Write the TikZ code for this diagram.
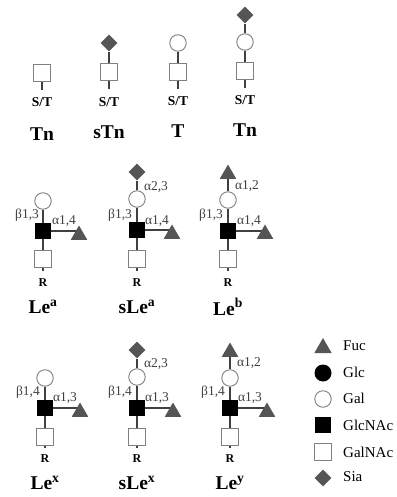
\documentclass[tikz,border=0pt]{standalone}
\usepackage{fontspec}
\setmainfont{Liberation Serif}
\usetikzlibrary{shapes.geometric,backgrounds}
\definecolor{dk}{HTML}{555555}
\definecolor{ln}{HTML}{404040}
\definecolor{ol}{HTML}{808080}
\tikzset{
  gal/.style={circle,draw=ol,fill=white,line width=0.9pt,minimum size=16.5pt,inner sep=0pt},
  glc/.style={circle,fill=black,minimum size=17pt,inner sep=0pt},
  galnac/.style={rectangle,draw=ol,fill=white,line width=0.9pt,minimum size=16.5pt,inner sep=0pt},
  glcnac/.style={rectangle,fill=black,minimum size=16.5pt,inner sep=0pt},
  fuc/.style={regular polygon,regular polygon sides=3,fill=dk,minimum size=19pt,inner sep=0pt},
  sia/.style={diamond,fill=dk,minimum width=17pt,minimum height=17pt,inner sep=0pt},
  link/.style={draw=ln,line width=1.6pt},
  st/.style={font=\fontsize{13.5}{13.5}\selectfont\bfseries,inner sep=0pt},
  rr/.style={font=\fontsize{12}{12}\selectfont\bfseries,inner sep=0pt},
  nm/.style={font=\fontsize{19.5}{19.5}\selectfont\bfseries,inner sep=0pt},
  lk/.style={font=\fontsize{13.5}{13.5}\selectfont,text=ln,inner sep=0pt},
  lg/.style={font=\fontsize{15}{15}\selectfont,anchor=west,inner sep=0pt}
}
\begin{document}
\begin{tikzpicture}[x=1pt,y=-1pt]
\useasboundingbox (0,0) rectangle (396,497);
% ---------- Row 1 ----------
\node[galnac] (a1s) at (42,73) {};
\coordinate (a1e) at (42,90);
\node[st] (a1t) at (42,102) {S/T};
\node[nm] (a1n) at (42,134) {Tn};
\node[sia] (a2d) at (109,43) {};
\node[galnac] (a2s) at (109,72) {};
\coordinate (a2e) at (109,89);
\node[st] (a2t) at (109,102) {S/T};
\node[nm] (a2n) at (109,132) {sTn};
\node[gal] (a3c) at (178,43) {};
\node[galnac] (a3s) at (178,72) {};
\coordinate (a3e) at (178,89);
\node[st] (a3t) at (178,101) {S/T};
\node[nm] (a3n) at (178,131) {T};
\node[sia] (a4d) at (245,15) {};
\node[gal] (a4c) at (245,42) {};
\node[galnac] (a4s) at (245,71) {};
\coordinate (a4e) at (245,88);
\node[st] (a4t) at (245,100) {S/T};
\node[nm] (a4n) at (245,130) {Tn};
% ---------- Row 2 ----------
\node[gal] (b1c) at (43,201) {};
\node[glcnac] (b1k) at (43,231) {};
\node[galnac] (b1s) at (43,259) {};
\coordinate (b1e) at (43,271);
\node[fuc] (b1f) at (79,235) {};
\node[lk] (b1b) at (27,215) {β1,3};
\node[lk] (b1a) at (64,221) {α1,4};
\node[rr] (b1r) at (43,283) {R};
\node[nm] (b1n) at (43,307) {Le\textsuperscript{a}};
\node[sia] (b2d) at (137,172) {};
\node[gal] (b2c) at (137,199) {};
\node[glcnac] (b2k) at (137,230) {};
\node[galnac] (b2s) at (137,259) {};
\coordinate (b2e) at (137,271);
\node[fuc] (b2f) at (172,234) {};
\node[lk] (b2g) at (156,187) {α2,3};
\node[lk] (b2b) at (120,215) {β1,3};
\node[lk] (b2a) at (157,221) {α1,4};
\node[rr] (b2r) at (137,283) {R};
\node[nm] (b2n) at (137,307) {sLe\textsuperscript{a}};
\node[fuc] (b3t) at (228,174) {};
\node[gal] (b3c) at (228,200) {};
\node[glcnac] (b3k) at (228,231) {};
\node[galnac] (b3s) at (228,259) {};
\coordinate (b3e) at (228,271);
\node[fuc] (b3f) at (265,234) {};
\node[lk] (b3g) at (247,186) {α1,2};
\node[lk] (b3b) at (211,215) {β1,3};
\node[lk] (b3a) at (249,221) {α1,4};
\node[rr] (b3r) at (228,283) {R};
\node[nm] (b3n) at (228,307) {Le\textsuperscript{b}};
% ---------- Row 3 ----------
\node[gal] (c1c) at (45,378) {};
\node[glcnac] (c1k) at (45,408) {};
\node[galnac] (c1s) at (45,437) {};
\coordinate (c1e) at (45,448);
\node[fuc] (c1f) at (80,412) {};
\node[lk] (c1b) at (28,392) {β1,4};
\node[lk] (c1a) at (65,398) {α1,3};
\node[rr] (c1r) at (45,459) {R};
\node[nm] (c1n) at (45,483) {Le\textsuperscript{x}};
\node[sia] (c2d) at (137,350) {};
\node[gal] (c2c) at (137,377) {};
\node[glcnac] (c2k) at (137,408) {};
\node[galnac] (c2s) at (137,437) {};
\coordinate (c2e) at (137,448);
\node[fuc] (c2f) at (173,412) {};
\node[lk] (c2g) at (156,364) {α2,3};
\node[lk] (c2b) at (120,392) {β1,4};
\node[lk] (c2a) at (157,398) {α1,3};
\node[rr] (c2r) at (137,459) {R};
\node[nm] (c2n) at (137,483) {sLe\textsuperscript{x}};
\node[fuc] (c3t) at (230,352) {};
\node[gal] (c3c) at (230,378) {};
\node[glcnac] (c3k) at (230,408) {};
\node[galnac] (c3s) at (230,437) {};
\coordinate (c3e) at (230,448);
\node[fuc] (c3f) at (267,412) {};
\node[lk] (c3g) at (249,363) {α1,2};
\node[lk] (c3b) at (213,392) {β1,4};
\node[lk] (c3a) at (250,398) {α1,3};
\node[rr] (c3r) at (230,459) {R};
\node[nm] (c3n) at (230,483) {Le\textsuperscript{y}};
% ---------- Connectors (behind the residues) ----------
\begin{scope}[on background layer]
\draw[link] (a1s) -- (a1e);
\draw[link] (a2d) -- (a2s) -- (a2e);
\draw[link] (a3c) -- (a3s) -- (a3e);
\draw[link] (a4d) -- (a4c) -- (a4s) -- (a4e);
\draw[link] (b1c) -- (b1k) -- (b1s) -- (b1e);
\draw[link] (b1k) -- (b1k -| b1f);
\draw[link] (b2d) -- (b2c) -- (b2k) -- (b2s) -- (b2e);
\draw[link] (b2k) -- (b2k -| b2f);
\draw[link] (b3t) -- (b3c) -- (b3k) -- (b3s) -- (b3e);
\draw[link] (b3k) -- (b3k -| b3f);
\draw[link] (c1c) -- (c1k) -- (c1s) -- (c1e);
\draw[link] (c1k) -- (c1k -| c1f);
\draw[link] (c2d) -- (c2c) -- (c2k) -- (c2s) -- (c2e);
\draw[link] (c2k) -- (c2k -| c2f);
\draw[link] (c3t) -- (c3c) -- (c3k) -- (c3s) -- (c3e);
\draw[link] (c3k) -- (c3k -| c3f);
\end{scope}
% ---------- Legend ----------
\node[fuc,minimum size=20pt] (l1) at (323,348) {};
\node[glc] (l2) at (323,373) {};
\node[gal] (l3) at (323,399) {};
\node[glcnac] (l4) at (323,425) {};
\node[galnac] (l5) at (323,452) {};
\node[sia,minimum width=17pt,minimum height=17pt] (l6) at (323,478) {};
\node[lg] (t1) at (343,346) {Fuc};
\node[lg] (t2) at (343,372) {Glc};
\node[lg] (t3) at (343,398) {Gal};
\node[lg] (t4) at (343,425) {GlcNAc};
\node[lg] (t5) at (343,452) {GalNAc};
\node[lg] (t6) at (343,477) {Sia};
\end{tikzpicture}
\end{document}
